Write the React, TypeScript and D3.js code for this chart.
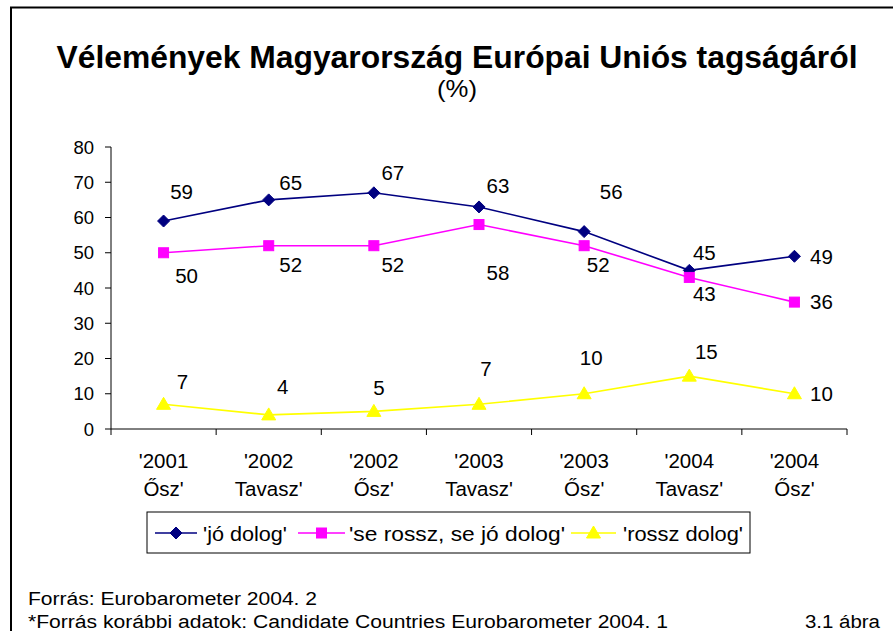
import React from "react";
import * as d3 from "d3";

const categories: string[][] = [
  ["'2001", "Ősz'"],
  ["'2002", "Tavasz'"],
  ["'2002", "Ősz'"],
  ["'2003", "Tavasz'"],
  ["'2003", "Ősz'"],
  ["'2004", "Tavasz'"],
  ["'2004", "Ősz'"],
];
const joDolog = [59, 65, 67, 63, 56, 45, 49];
const seRosszSeJo = [50, 52, 52, 58, 52, 43, 36];
const rosszDolog = [7, 4, 5, 7, 10, 15, 10];
const yTicks = [0, 10, 20, 30, 40, 50, 60, 70, 80];
const seriesNames = ["'jó dolog'", "'se rossz, se jó dolog'", "'rossz dolog'"];

// label placement offsets (dx, dy) relative to each point
const joOffsets = [[18, -29], [22, -17], [19, -20], [19, -21], [27, -40], [15, -18], [27, 0]];
const seOffsets = [[23, 23], [22, 19], [19, 19], [19, 48], [14, 19], [15, 16], [27, 0]];
const rosszOffsets = [[19, -23], [14, -28], [5, -24], [7, -36], [7, -36], [17, -25], [27, 0]];

const W = 893;
const H = 631;
const FONT = "'Liberation Sans', Arial, sans-serif";

type Series = {
  name: string;
  values: number[];
  color: string;
  marker: "diamond" | "square" | "triangle";
  offsets: number[][];
};

const series: Series[] = [
  { name: seriesNames[0], values: joDolog, color: "#000080", marker: "diamond", offsets: joOffsets },
  { name: seriesNames[1], values: seRosszSeJo, color: "#FF00FF", marker: "square", offsets: seOffsets },
  { name: seriesNames[2], values: rosszDolog, color: "#FFFF00", marker: "triangle", offsets: rosszOffsets },
];

function Marker({ type, x, y, color }: { type: string; x: number; y: number; color: string }) {
  if (type === "diamond") {
    const s = 6;
    return <path d={`M${x},${y - s}L${x + s},${y}L${x},${y + s}L${x - s},${y}Z`} fill={color} stroke={color} strokeWidth={1} />;
  }
  if (type === "square") {
    const s = 5;
    return <rect x={x - s} y={y - s} width={2 * s} height={2 * s} fill={color} stroke={color} strokeWidth={1} />;
  }
  const s = 6;
  return <path d={`M${x},${y - s - 1}L${x + s + 1},${y + s - 1}L${x - s - 1},${y + s - 1}Z`} fill={color} stroke={color} strokeWidth={1} />;
}

export default function App() {
  const left = 111;
  const right = 847;
  const top = 147;
  const bottom = 429;
  const x = d3.scaleBand<number>().domain(d3.range(categories.length)).range([left, right]);
  const y = d3.scaleLinear().domain([0, 80]).range([bottom, top]);
  const cx = (i: number) => (x(i) as number) + x.bandwidth() / 2;
  const line = d3
    .line<number>()
    .x((_, i) => cx(i))
    .y((d) => y(d));

  const boundaries = d3.range(categories.length + 1).map((i) => left + i * x.bandwidth());

  const legItems = [
    { start: 155, end: 197, textX: 203, len: 84 },
    { start: 298, end: 345, textX: 349, len: 216 },
    { start: 571, end: 616, textX: 623, len: 120 },
  ];

  return (
    <svg
      width={W}
      height={H}
      style={{ position: "absolute", left: 0, top: 0, background: "#fff" }}
      fontFamily={FONT}
    >
      <rect x={0} y={0} width={W} height={H} fill="#fff" />
      <path d={`M11,${H + 5}L11,7.5L${W + 5},7.5`} fill="none" stroke="#000" strokeWidth={2} />

      <text x={457} y={68} textAnchor="middle" fontSize={31} fontWeight="bold" textLength={801} lengthAdjust="spacingAndGlyphs">
        Vélemények Magyarország Európai Uniós tagságáról
      </text>
      <text x={457} y={97} textAnchor="middle" fontSize={24} textLength={40} lengthAdjust="spacingAndGlyphs">
        (%)
      </text>

      <line x1={left} x2={left} y1={top} y2={bottom} stroke="#000" strokeWidth={1} />
      {yTicks.map((t) => (
        <g key={t}>
          <line x1={left - 6} x2={left} y1={y(t)} y2={y(t)} stroke="#000" />
          <text x={94} y={y(t)} dy="0.36em" textAnchor="end" fontSize={18.5}>
            {t}
          </text>
        </g>
      ))}

      <line x1={left} x2={right} y1={bottom} y2={bottom} stroke="#000" strokeWidth={1} />
      {boundaries.map((b, i) => (
        <line key={i} x1={b} x2={b} y1={bottom} y2={bottom + 6} stroke="#000" />
      ))}
      {categories.map((c, i) => (
        <g key={i}>
          <text x={cx(i)} y={468} textAnchor="middle" fontSize={20.5}>
            {c[0]}
          </text>
          <text x={cx(i)} y={496} textAnchor="middle" fontSize={20.5}>
            {c[1]}
          </text>
        </g>
      ))}

      {series.map((s) => (
        <g key={s.name}>
          <path d={line(s.values) || ""} fill="none" stroke={s.color} strokeWidth={1.6} />
          {s.values.map((v, i) => (
            <Marker key={i} type={s.marker} x={cx(i)} y={y(v)} color={s.color} />
          ))}
          {s.values.map((v, i) => (
            <text
              key={"l" + i}
              x={cx(i) + s.offsets[i][0]}
              y={y(v) + s.offsets[i][1]}
              dy="0.36em"
              textAnchor="middle"
              fontSize={20.5}
            >
              {v}
            </text>
          ))}
        </g>
      ))}

      <rect x={147} y={512} width={603} height={41} fill="#fff" stroke="#000" strokeWidth={1} />
      {series.map((s, i) => (
        <g key={"leg" + i}>
          <line x1={legItems[i].start} x2={legItems[i].end} y1={533} y2={533} stroke={s.color} strokeWidth={1.6} />
          <Marker type={s.marker} x={(legItems[i].start + legItems[i].end) / 2} y={533} color={s.color} />
          <text x={legItems[i].textX} y={533} dy="0.36em" fontSize={21} textLength={legItems[i].len} lengthAdjust="spacingAndGlyphs">
            {s.name}
          </text>
        </g>
      ))}

      <text x={28} y={605} fontSize={18} textLength={289} lengthAdjust="spacingAndGlyphs">
        Forrás: Eurobarometer 2004. 2
      </text>
      <text x={28} y={628} fontSize={18} textLength={640} lengthAdjust="spacingAndGlyphs">
        *Forrás korábbi adatok: Candidate Countries Eurobarometer 2004. 1
      </text>
      <text x={880} y={628} textAnchor="end" fontSize={18} textLength={75} lengthAdjust="spacingAndGlyphs">
        3.1 ábra
      </text>
    </svg>
  );
}
